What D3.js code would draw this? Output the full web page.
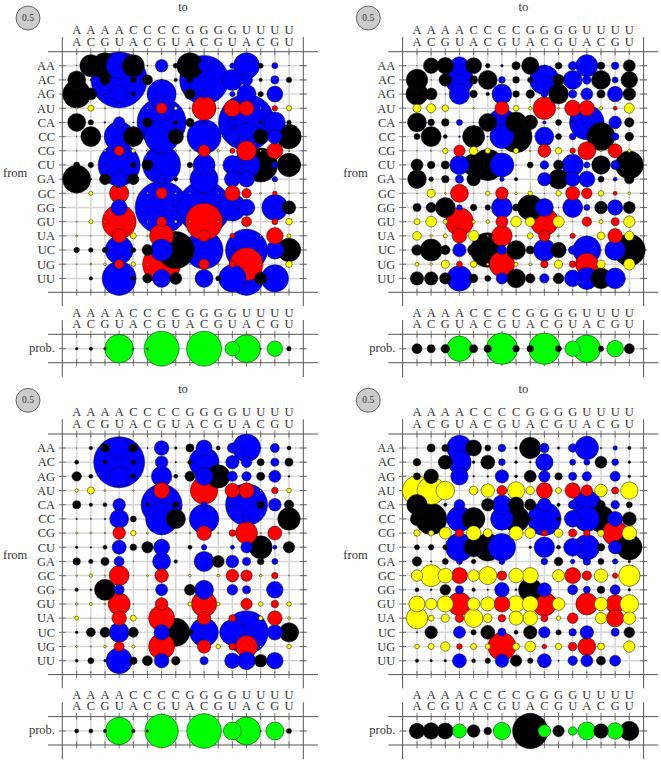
<!DOCTYPE html>
<html>
<head>
<meta charset="utf-8">
<script src="https://cdn.jsdelivr.net/npm/d3@7"></script>
<style>
  html, body { margin: 0; padding: 0; background: #fff; }
  text { font-family: "Liberation Serif", serif; fill: #333; }
</style>
</head>
<body>
<svg id="chart" width="661" height="763"></svg>
<script>
// dinucleotide labels, same order on both axes
var pairs = ['AA','AC','AG','AU','CA','CC','CG','CU','GA','GC','GG','GU','UA','UC','UG','UU'];
var basePairs = ['AU','CG','GC','GU','UA','UG'];
var legendValue = 0.5;

var matrixA = [
  [.0003,.42,.587,.587,.42,.001,.138,.022,.587,.105,.001,.025,.587,.022,.031,.0003],
  [.281,.003,.087,2.722,.031,.087,.003,.01,.031,2.084,.001,.383,.125,.01,.056,.025],
  [.681,.125,.001,.281,.014,0,.73,0,.098,.056,.0003,.025,.313,.025,.222,0],
  [.003,.031,.002,0,.001,.002,.105,.01,.002,.5,.001,.251,.195,.002,.025,.022],
  [.281,.025,.003,.113,.001,.077,2.084,.014,.064,.014,0,.056,2.722,.01,.383,.018],
  [.0003,.347,.001,.781,.347,.0003,1.003,.206,0,1.003,0,.185,.633,.195,.185,.525],
  [.001,0,.003,.087,.014,.003,.001,.003,.001,.125,.005,.022,.347,.003,.222,.002],
  [.031,.025,.001,1.531,.025,.105,1.253,.001,.025,.42,0,.313,.633,1.003,.031,.475],
  [.681,.003,.105,.239,.105,0,.064,.014,.0003,.681,0,.222,.222,.001,.025,0],
  [.0003,.014,0,.327,.0003,.002,.113,.003,.002,.001,.002,.206,.077,.003,.018,.002],
  [0,0,0,.222,0,.0003,2.438,.0003,.0003,2.438,0,.633,.239,0,.587,.156],
  [.001,.014,.002,1.003,.002,.002,.087,.006,.003,1.188,.003,.0003,.087,0,.031,.038],
  [.003,.0003,.0003,.17,.031,.002,.5,.001,0,.113,0,.022,0,.003,.239,.014],
  [.025,.018,.025,.681,.022,.105,.42,1.188,.0003,1.253,0,.038,1.531,0,.281,.475],
  [.001,.003,.006,.077,.018,.002,1.253,.0003,.0003,.098,.003,.038,.945,.002,0,.038],
  [0,.01,0,1.003,.018,.077,.281,.125,0,.281,.022,.652,1.003,.125,.652,0]
];
var probA = [.006,.01,.006,.71,.003,.003,1.063,0,0,1.063,0,.185,.681,.002,.206,.017];

var matrixB = [
  [.0003,.206,.239,.281,.222,.018,.006,.056,.263,.003,.038,.064,.42,.048,.048,.125],
  [.398,.0003,.138,.681,.056,.313,.038,.038,.025,.75,.113,.313,.064,.313,.031,.239],
  [.42,.125,.0003,.368,.048,.01,.347,.038,.064,.038,.347,.056,.125,.056,.206,.138],
  [.056,.07,.038,0,.002,0,.17,.027,.01,.443,.003,.222,.206,.01,.014,.087],
  [.313,.038,.05,.031,.0003,.281,.681,.383,.185,.01,.031,.025,1.039,0,.138,.077],
  [.031,.347,.014,.003,.42,.001,.5,.889,.001,.313,.031,.038,.001,.681,.048,.064],
  [.001,.002,.025,.113,.064,.025,.0003,.025,.002,.147,.036,.027,.281,.003,.17,.01],
  [.125,.048,.056,.327,.42,.856,.5,.0003,.031,.064,.087,.398,.031,.3,.07,.681],
  [.3,.018,.048,.056,.156,.003,.018,.01,0,.156,.347,.185,.222,.031,.014,.077],
  [.0003,.056,.003,.281,.0003,.018,.138,.005,.018,.0003,.025,.17,.098,.027,.014,.006],
  [.056,.087,.347,.025,.036,.025,.383,.043,.56,.281,.0003,.347,.031,.138,.206,.125],
  [.031,.098,.018,.681,.01,.01,.125,.098,.077,.681,.113,.0003,.077,.014,.056,.113],
  [.064,.006,.014,.185,.098,.003,.368,.002,.031,.113,.003,.025,.0003,.05,.185,.077],
  [.098,.42,.077,.156,.125,1.039,.077,.313,.056,.42,.206,.064,.681,.0003,.368,.889],
  [.014,.006,.056,.031,.038,.006,.56,.014,.006,.048,.056,.038,.443,.056,0,.113],
  [.156,.156,.113,.56,.064,.031,.113,.313,.077,.077,.098,.239,.42,.368,.368,0]
];
var probB = [.087,.056,.064,.56,.056,.048,.856,.038,.038,.856,.031,.206,.652,.025,.239,.087];

var matrixC = [
  [.0003,.01,.064,.368,.064,.001,.185,.005,.056,.222,.014,.087,.681,.001,.07,.014],
  [.014,0,.014,2.258,.018,0,.138,.002,.018,.781,0,.156,.098,.043,.056,.056],
  [.077,.014,0,.347,.018,.0003,.368,.014,.087,.281,.475,.087,.077,.056,.125,.003],
  [.01,.043,.003,0,.002,0,.222,0,0,.652,0,.185,.206,.003,.038,.018],
  [.056,.01,.014,.138,0,.01,1.459,.031,0,.031,0,.038,1.531,.048,.138,.077],
  [.002,.001,.002,.313,.031,0,.889,.327,0,.75,0,0,.038,0,0,.443],
  [.003,.003,.002,.138,.025,.003,0,.002,.003,.185,.002,.038,.42,.002,.17,.003],
  [.005,.002,.014,.17,.038,.113,.222,0,.014,.025,0,.014,.113,.459,.014,.113],
  [.048,.017,.056,.087,.0003,0,.281,.01,0,.347,.125,.138,.056,.038,.031,0],
  [.002,.01,.002,.347,.0003,.003,.161,0,.005,0,.006,.138,.113,.005,.036,.001],
  [.01,.003,.383,.087,0,.0003,.125,0,.105,.313,0,.098,.056,0,.239,0],
  [.005,.008,.003,.42,.001,0,.138,0,.014,.56,.01,0,.113,.018,.048,.017],
  [.014,.0003,.0003,.185,.031,.0003,.587,0,.0003,.156,.0003,.043,0,.017,.185,.006],
  [.006,.07,.087,.347,.087,0,.206,.681,.031,.71,0,.56,1.635,0,.206,.327],
  [.003,.002,.006,.087,.008,0,.587,0,.0003,.156,.018,.043,.42,.003,0,.018],
  [.008,.031,.006,.587,.05,.087,.185,.064,0,.056,0,.206,.281,.138,.239,0]
];
var probC = [.014,.014,.01,.652,.01,.006,.968,0,0,1.039,0,.281,.681,.002,.281,.022];

var matrixD = [
  [.0003,.056,.043,.56,.222,.031,.048,.006,.398,.077,.006,.064,.475,.002,.018,.01],
  [.048,0,.17,.475,.006,.17,.038,.006,.003,.263,0,.031,.031,.125,.038,.006],
  [.043,.185,0,.263,.003,.003,.156,.006,.125,.113,.048,.056,.077,0,.087,.006],
  [.75,.681,.3,0,.064,.156,.087,.263,.056,.222,.031,.206,.113,.138,.043,.263],
  [.368,0,.01,.098,0,.138,.327,.206,.113,.156,.01,.064,.71,.064,.064,.031],
  [.156,.856,0,.56,.443,0,.443,.614,.01,.968,.014,.239,.56,.614,.195,.17],
  [.036,.027,.125,.056,.185,.064,0,.17,.098,.031,.064,.056,.038,.038,.56,.185],
  [.022,.025,.022,.681,.327,.652,.652,0,.005,.368,.014,.281,.56,.048,.156,.56],
  [.077,.002,.031,.031,.018,0,.031,0,0,.038,.064,.018,.048,.031,.025,.006],
  [.113,.42,.185,.222,.113,.281,.077,.185,.222,0,.125,.222,.077,.156,.025,.398],
  [.014,.003,.098,.056,.01,.002,.185,.003,.475,.17,0,.087,.043,.048,.087,.006],
  [.222,.113,.222,.475,.138,.17,.222,.239,.222,.5,.138,0,.42,.156,.3,.3],
  [.398,.031,.056,.064,.3,.064,.048,.17,.185,.043,.018,.098,0,.113,.263,.138],
  [.002,.138,0,.125,.025,.17,.056,.014,.156,.113,.025,.048,.156,0,.056,.098],
  [.018,.031,.077,.027,.031,.025,.681,.043,.098,.018,.036,.064,.281,.043,0,.113],
  [.01,.005,.006,.17,.014,.025,.156,.113,.025,.17,.002,.077,.125,.07,.105,0]
];
var probD = [.206,.239,.222,.17,.138,.048,.263,0,1.088,.138,.113,.064,.281,.185,.239,.327];

var panels = [
  { cells: matrixA, prob: probA, x: 0, y: 0 },
  { cells: matrixB, prob: probB, x: 340.3, y: 0 },
  { cells: matrixC, prob: probC, x: 0, y: 382.3 },
  { cells: matrixD, prob: probD, x: 340.3, y: 382.3 }
];

var svg = d3.select('#chart');

var x = d3.scalePoint().domain(pairs).range([76.7, 289]);
var y = d3.scalePoint().domain(pairs).range([65.7, 278.4]);
var r = d3.scaleSqrt().domain([0, legendValue]).range([0, 12]);

function cellColor(from, to) {
  var a = basePairs.indexOf(from) >= 0, b = basePairs.indexOf(to) >= 0;
  if (a && b) return '#f00';
  if (a) return '#ff0';
  if (b) return '#00f';
  return '#000';
}

function hline(g, x1, x2, yy, color, w) {
  g.append('line').attr('x1', x1).attr('x2', x2).attr('y1', yy).attr('y2', yy)
    .attr('stroke', color).attr('stroke-width', w);
}

function vline(g, xx, y1, y2, color, w) {
  g.append('line').attr('x1', xx).attr('x2', xx).attr('y1', y1).attr('y2', y2)
    .attr('stroke', color).attr('stroke-width', w);
}

// two stacked letters per column, as one text
function columnLabels(g, top) {
  var label = g.selectAll(null).data(pairs).enter().append('text')
    .attr('text-anchor', 'middle')
    .attr('font-size', 12.5);
  label.append('tspan')
    .attr('x', function(d) { return x(d); })
    .attr('y', top)
    .text(function(d) { return d[0]; });
  label.append('tspan')
    .attr('x', function(d) { return x(d); })
    .attr('y', top + 11.3)
    .text(function(d) { return d[1]; });
}

function dots(g, data) {
  // big circles first, so small ones stay visible
  data.sort(function(a, b) { return b.value - a.value; });
  g.selectAll('circle').data(data).enter().append('circle')
    .attr('cx', function(d) { return d.cx; })
    .attr('cy', function(d) { return d.cy; })
    .attr('r', function(d) { return r(d.value); })
    .attr('fill', function(d) { return d.color; })
    .attr('stroke', '#111')
    .attr('stroke-width', 0.5);
}

panels.forEach(function(p) {
  var g = svg.append('g').attr('transform', 'translate(' + p.x + ',' + p.y + ')');

  // legend bubble
  g.append('circle').attr('cx', 28).attr('cy', 18).attr('r', r(legendValue))
    .attr('fill', '#ccc').attr('stroke', '#333').attr('stroke-width', 0.7);
  g.append('text').attr('x', 28).attr('y', 21).attr('text-anchor', 'middle')
    .attr('font-size', 9.5).text(legendValue);

  g.append('text').attr('x', 183).attr('y', 11).attr('text-anchor', 'middle')
    .attr('font-size', 12.5).text('to');
  g.append('text').attr('x', 3).attr('y', 176.5).attr('font-size', 12.5).text('from');

  columnLabels(g, 34.2);
  columnLabels(g, 316.7);

  // light grid, main block
  pairs.forEach(function(d) {
    vline(g, x(d), 51.7, 292.3, '#d6d6d6', 1.5);
    hline(g, 62.3, 306.8, y(d), '#d6d6d6', 1.5);
  });
  // dark ticks across the frame
  pairs.forEach(function(d) {
    vline(g, x(d), 48.2, 55.2, '#444', 0.7);
    vline(g, x(d), 288.8, 295.8, '#444', 0.7);
    hline(g, 58.8, 65.8, y(d), '#444', 0.7);
    hline(g, 299.8, 306.8, y(d), '#444', 0.7);
  });
  hline(g, 48, 318, 51.7, '#555', 1);
  hline(g, 48, 318, 292.3, '#555', 1);
  vline(g, 62.3, 37, 306, '#555', 1);
  vline(g, 303.3, 37, 306, '#555', 1);

  g.selectAll('.row-label').data(pairs).enter().append('text')
    .attr('class', 'row-label')
    .attr('x', 55)
    .attr('y', function(d) { return y(d) + 4.3; })
    .attr('text-anchor', 'end')
    .attr('font-size', 12.5)
    .text(function(d) { return d; });

  var cells = [];
  p.cells.forEach(function(row, i) {
    row.forEach(function(v, j) {
      if (v > 0) cells.push({ value: v, cx: x(pairs[j]), cy: y(pairs[i]), color: cellColor(pairs[i], pairs[j]) });
    });
  });
  dots(g.append('g'), cells);

  // probability strip
  var probY = 348.7;
  pairs.forEach(function(d) {
    vline(g, x(d), 334.3, 362.7, '#d6d6d6', 1.5);
    vline(g, x(d), 330.8, 337.8, '#444', 0.7);
    vline(g, x(d), 359.2, 366.2, '#444', 0.7);
  });
  hline(g, 62.3, 306.8, probY, '#d6d6d6', 1.5);
  hline(g, 58.8, 65.8, probY, '#444', 0.7);
  hline(g, 299.8, 306.8, probY, '#444', 0.7);
  hline(g, 48, 318, 334.3, '#555', 1);
  hline(g, 48, 318, 362.7, '#555', 1);
  vline(g, 62.3, 320, 377, '#555', 1);
  vline(g, 303.3, 320, 377, '#555', 1);

  g.append('text').attr('x', 55).attr('y', probY + 3).attr('text-anchor', 'end')
    .attr('font-size', 12.5).text('prob.');

  var strip = p.prob.map(function(v, j) {
    return { value: v, cx: x(pairs[j]), cy: probY, color: basePairs.indexOf(pairs[j]) >= 0 ? '#0f0' : '#000' };
  }).filter(function(d) { return d.value > 0; });
  dots(g.append('g'), strip);
});
</script>
</body>
</html>
